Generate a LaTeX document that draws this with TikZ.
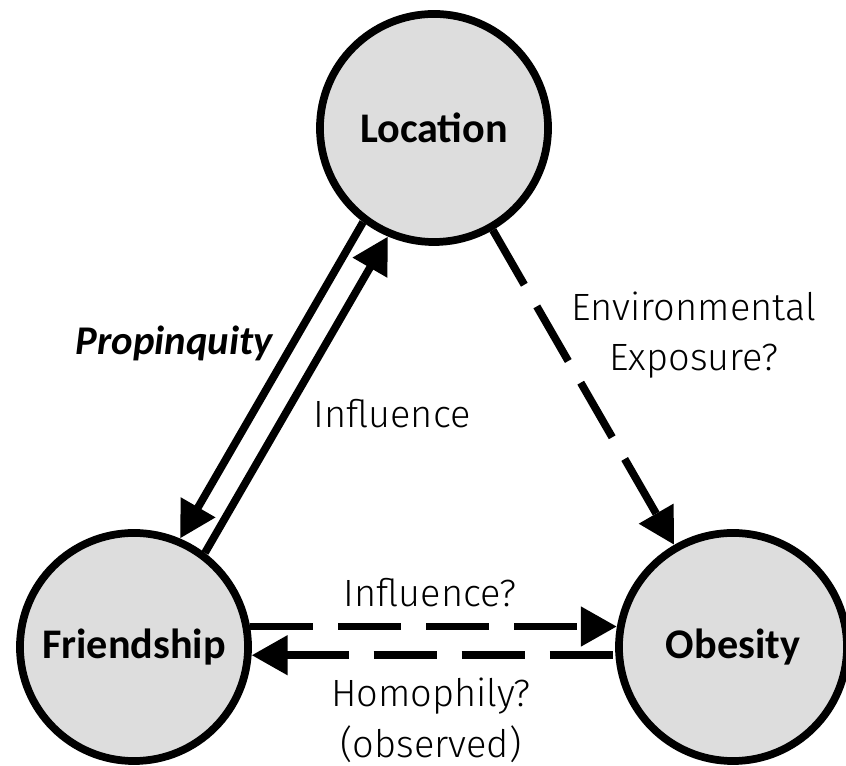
\documentclass[tikz,border=0pt]{standalone}
\usepackage{fontspec}
\setmainfont{Carlito}
\newfontfamily\lightfont{Fira Sans Light}
\usetikzlibrary{arrows.meta, positioning}

\definecolor{circlegray}{RGB}{221,221,221}

\tikzset{bigtri/.tip={Triangle[length=0.9cm, width=0.95cm]}}

\begin{document}
\begin{tikzpicture}[x=0.025cm, y=0.025cm,
    factor/.style={circle, draw, line width=5.5pt, fill=circlegray, minimum size=5.7cm,
        inner sep=0pt, font=\fontsize{30}{36}\selectfont\bfseries},
    link/.style={line width=5.5pt, -bigtri},
    maybe/.style={link, dash pattern=on 1.575cm off 0.625cm},
    lbl/.style={font=\lightfont\fontsize{27}{36}\selectfont, align=center, inner sep=0pt}]

    \useasboundingbox (0,0) rectangle (846,766);

    % Circles
    \node[factor] (loc) at (434,638) {Location};
    \node[factor] (fr) at (134,119) {Friendship};
    \node[factor] (obe) at (733,119) {Obesity};

    % Location and Friendship
    \draw[link] (loc.233) -- (fr.67);
    \draw[link] (fr.53) -- (loc.247);
    \node[lbl, anchor=base, font=\fontsize{29}{34}\selectfont\bfseries\itshape] (prop) at (174,411) {Propinquity};
    \node[lbl, anchor=base] (infl) at (392,338) {Influence};

    % Location to Obesity
    \draw[maybe] (loc) -- (obe);
    \node[lbl] (env) at (694,431) {Environmental\\Exposure?};

    % Friendship and Obesity
    \draw[maybe] (fr.10) -- (obe.170);
    \draw[maybe, bigtri-] (fr.-4) -- (obe.184);
    \node[lbl, anchor=base] (inflq) at (430,159) {Influence?};
    \node[lbl] (homo) at (431,46) {Homophily?\\(observed)};

\end{tikzpicture}
\end{document}
